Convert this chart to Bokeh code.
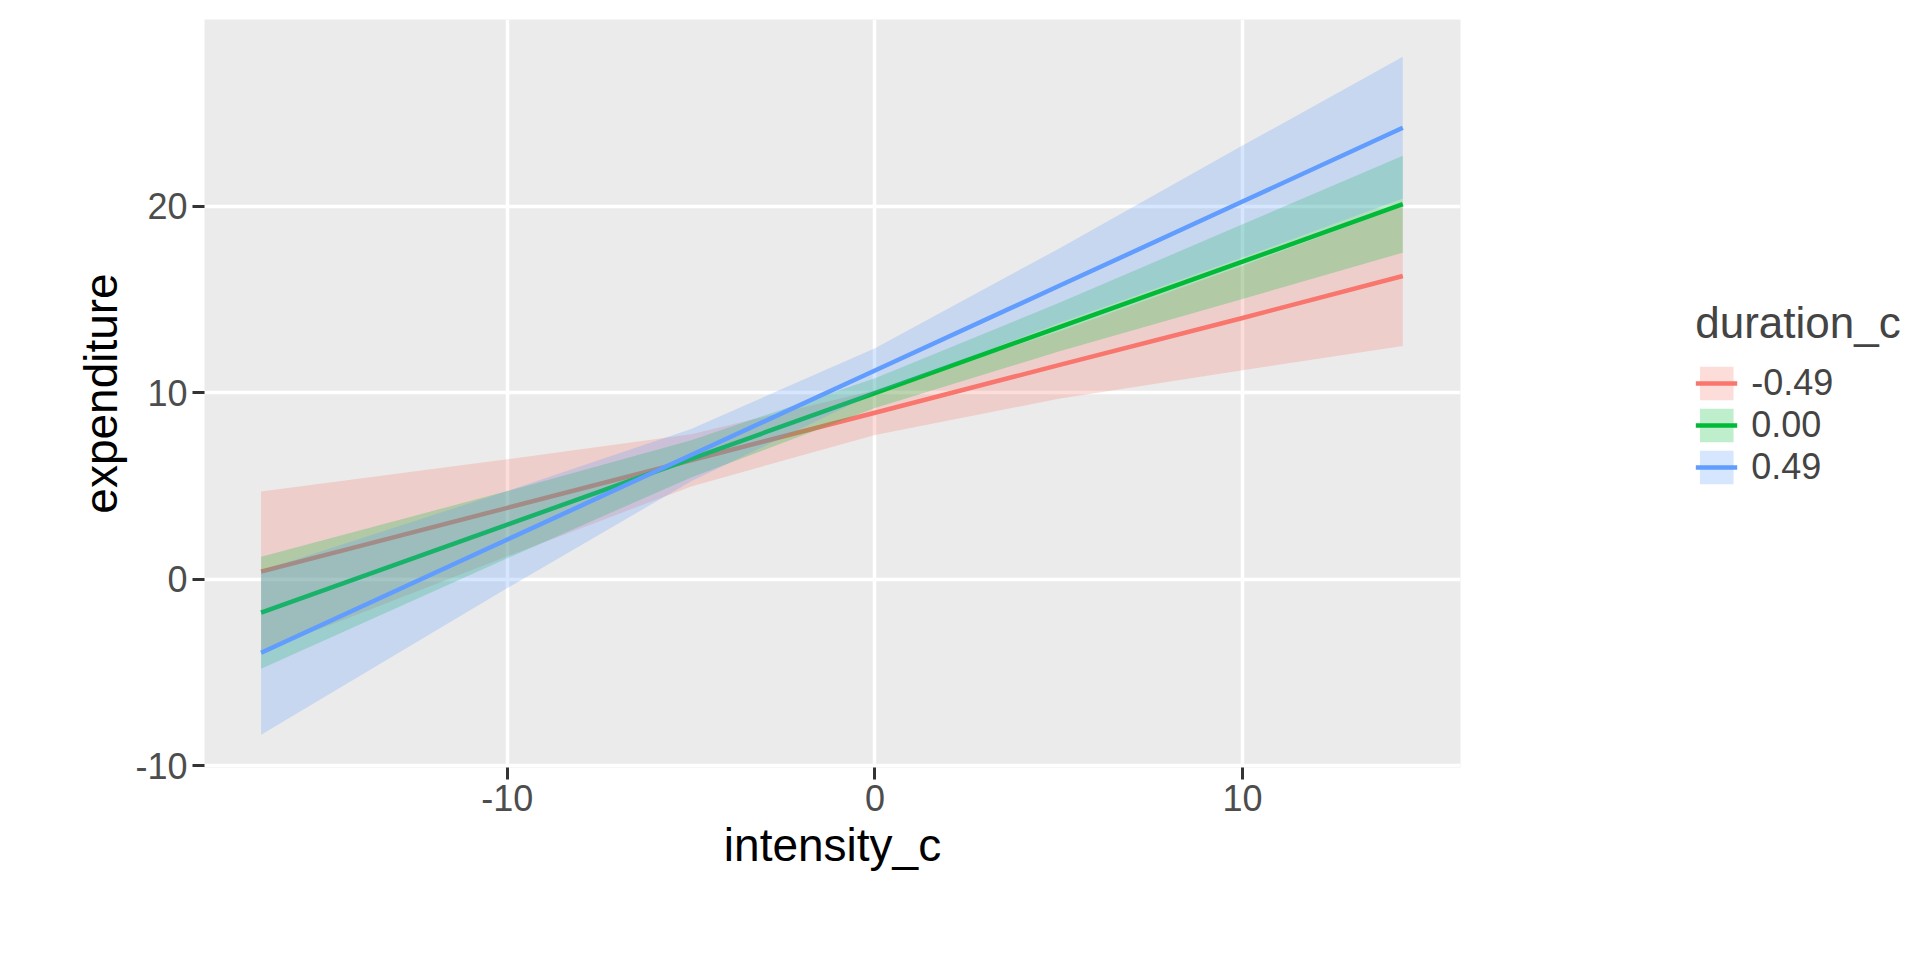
from bokeh.plotting import figure
from bokeh.models import Legend, LegendItem, FixedTicker, Range1d
from bokeh.embed import file_html
from bokeh.resources import INLINE

xs = [-16.7, -10, -5, 0, 5, 10, 14.36]
labels = ["-0.49", "0.00", "0.49"]
colors = ["#F8766D", "#00BA38", "#619CFF"]
fit_red = [0.4, 3.82, 6.37, 8.92, 11.47, 14.0, 16.25]
fit_green = [-1.8, 2.92, 6.45, 9.97, 13.5, 17.02, 20.1]
fit_blue = [-3.95, 2.12, 6.65, 11.18, 15.71, 20.24, 24.2]
hw_red = [4.3, 2.6, 1.4, 1.2, 1.8, 2.8, 3.75]
hw_green = [3.0, 1.8, 1.0, 0.8, 1.3, 2.0, 2.6]
hw_blue = [4.4, 2.6, 1.4, 1.2, 2.0, 3.0, 3.8]
fits = [fit_red, fit_green, fit_blue]
hws = [hw_red, hw_green, hw_blue]

F = "Liberation Sans"
p = figure(width=1900, height=940, frame_width=1256, frame_height=748,
           output_backend="svg", toolbar_location=None,
           x_range=Range1d(-18.24, 15.93), y_range=Range1d(-10.1, 30.0),
           min_border_left=204, min_border_top=19, min_border_bottom=20, min_border_right=20)
p.background_fill_color = "#EBEBEB"
p.border_fill_color = "white"
p.outline_line_color = None
p.grid.grid_line_color = "white"
p.grid.grid_line_width = 3.5
p.xaxis.ticker = FixedTicker(ticks=[-10, 0, 10])
p.yaxis.ticker = FixedTicker(ticks=[-10, 0, 10, 20])
p.xaxis.major_label_overrides = {-10: "-10", 0: "0", 10: "10"}
p.yaxis.major_label_overrides = {-10: "-10", 0: "0", 10: "10", 20: "20"}
for ax in (p.xaxis, p.yaxis):
    ax.axis_line_color = None
    ax.major_tick_line_color = "#333333"
    ax.major_tick_line_width = 3
    ax.major_tick_out = 12
    ax.major_tick_in = 0
    ax.minor_tick_line_color = None
    ax.major_label_text_font = F
    ax.major_label_text_font_size = "36px"
    ax.major_label_text_color = "#4D4D4D"
    ax.axis_label_text_font = F
    ax.axis_label_text_font_size = "46px"
    ax.axis_label_text_font_style = "normal"
    ax.axis_label_text_color = "black"
p.xaxis.axis_label = "intensity_c"
p.yaxis.axis_label = "expenditure"

items = []
for lab, c, f, h in zip(labels, colors, fits, hws):
    lo = [a - b for a, b in zip(f, h)]
    hi = [a + b for a, b in zip(f, h)]
    band = p.varea(x=xs, y1=lo, y2=hi, fill_color=c, fill_alpha=0.25)
    ln = p.line(xs, f, line_color=c, line_width=4.5)
    items.append(LegendItem(label=lab, renderers=[band, ln]))

leg = Legend(items=items, title="duration_c", location="center")
leg.title_text_font = F
leg.title_text_font_size = "44px"
leg.title_text_font_style = "normal"
leg.title_standoff = 14
leg.label_text_font = F
leg.label_text_font_size = "36px"
leg.border_line_color = None
leg.background_fill_alpha = 0
leg.glyph_width = 42
leg.glyph_height = 42
leg.label_standoff = 14
leg.spacing = 0
leg.label_height = 42
leg.margin = 40
p.add_layout(leg, "right")

open("out.html", "w").write(file_html(p, INLINE))
